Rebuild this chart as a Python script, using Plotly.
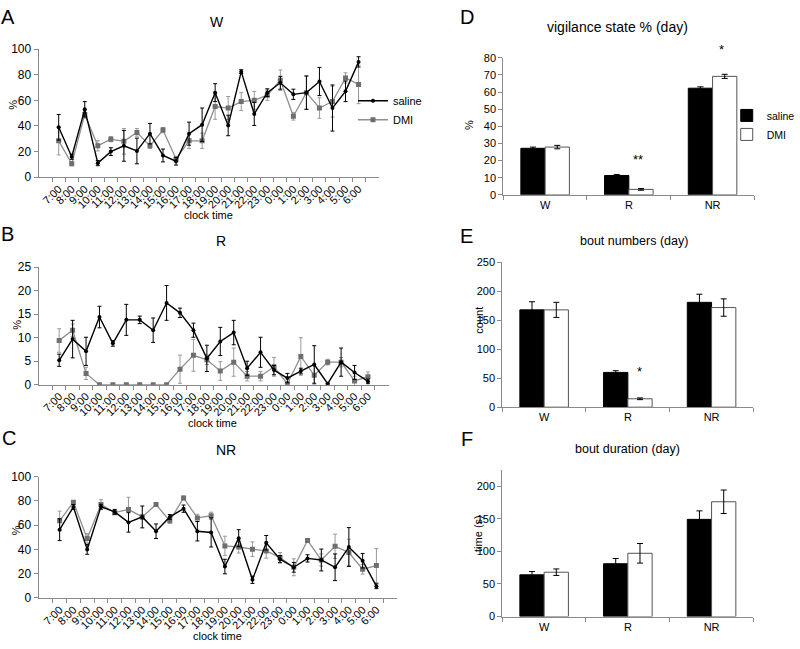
import plotly.graph_objects as go

# ---------------- data ----------------
clock = ["7:00", "8:00", "9:00", "10:00", "11:00", "12:00", "13:00", "14:00", "15:00", "16:00",
         "17:00", "18:00", "19:00", "20:00", "21:00", "22:00", "23:00", "0:00", "1:00", "2:00",
         "3:00", "4:00", "5:00", "6:00"]

W_saline = [39, 16, 53, 11, 20, 24.5, 20.5, 34, 17, 12.5, 34, 41, 66, 40.4, 82.4, 49.4, 66, 73.7, 64.7, 66, 74.7, 54, 67, 90]
W_saline_err = [10, 2, 6, 2, 3, 12, 10, 8, 5, 3, 9, 13, 7, 8, 1.5, 9, 3, 5, 4, 13, 11, 18, 8, 4]
W_dmi = [28.4, 10.5, 49, 24.5, 29.7, 28, 35, 24.5, 36.8, 14.3, 28.4, 28.4, 55.2, 54, 59, 60, 64, 75.7, 47.6, 66, 54, 59, 77.5, 72.4]
W_dmi_err = [11, 1.5, 3, 4, 2, 10, 3, 2, 2, 2, 6, 6, 10, 9, 7, 7, 4, 8, 3, 13, 8, 12, 4, 15]

R_saline = [5.2, 9.7, 7.1, 14.4, 8.8, 13.8, 13.8, 11.6, 17.4, 15.3, 11.6, 5.6, 9.2, 11.1, 3.5, 6.9, 3.1, 1.4, 2.9, 4.3, 0.2, 4.8, 2.6, 0.7]
R_saline_err = [1.3, 4, 3, 2.3, 0.6, 3.3, 0.8, 2.6, 3.7, 1, 1.5, 2.8, 3, 2.6, 1.5, 3.2, 1, 1, 0.6, 4, 0.1, 3, 1.5, 0.5]
R_dmi = [9.4, 11.6, 2.4, 0, 0, 0, 0, 0, 0, 3.3, 6.25, 5.3, 2.9, 4.8, 1.8, 1.8, 3.8, 0.2, 6, 2, 4.8, 4.8, 0.8, 1.7]
R_dmi_err = [2.5, 1.3, 1.3, 0, 0, 0, 0, 0, 0, 3, 3.4, 1, 2, 3, 1, 1, 2, 0.2, 4, 2, 0.6, 1, 1, 1]

NR_saline = [56.3, 75, 40, 75.2, 71, 62.3, 66.8, 55, 66.8, 73.6, 55, 54, 25.9, 49.3, 15, 45.5, 32, 25.3, 32.6, 31.3, 25.3, 42, 30.7, 9.7]
NR_saline_err = [9, 2, 4, 2, 2, 8, 9, 6, 2, 3, 8, 12, 6, 7, 3, 6, 3, 4, 3, 9, 11, 16, 6, 2]
NR_dmi = [63.6, 79, 49, 77, 70.3, 73, 66.8, 77, 63.6, 82.5, 66, 67.7, 42.9, 42, 40.2, 38.8, 33.4, 25.3, 47.4, 31.3, 42.6, 37.5, 23.7, 26.7]
NR_dmi_err = [8, 1, 4, 4, 1, 10, 2, 1.5, 2, 1.5, 3, 3, 8, 5, 6, 6, 4, 7, 1, 5, 10, 11, 4, 14]

states = ["W", "R", "NR"]
vig_saline = [27.2, 11.3, 62.3]
vig_saline_err = [0.7, 0.6, 0.8]
vig_dmi = [27.9, 3.2, 69.2]
vig_dmi_err = [1.0, 0.5, 1.2]

bout_num_saline = [168, 60, 181]
bout_num_saline_err = [14, 3, 14]
bout_num_dmi = [168, 14.5, 172]
bout_num_dmi_err = [13, 1.5, 15]

bout_dur_saline = [64, 81, 149]
bout_dur_saline_err = [5, 8, 13]
bout_dur_dmi = [68, 97, 176]
bout_dur_dmi_err = [5, 15, 18]

# ---------------- helpers ----------------
W_PX, H_PX = 800, 649


def px(x):
    return x / W_PX


def py(y):
    return 1 - y / H_PX


FONT = "Liberation Sans, Arial, sans-serif"
AXCOL = "#8a8a8a"

fig = go.Figure()


def add_lines(xa, ya, sal, sal_err, dmi, dmi_err, show):
    fig.add_trace(go.Scatter(
        x=clock, y=dmi, name="DMI", mode="lines+markers", xaxis=xa, yaxis=ya,
        line=dict(color="#8f8f8f", width=1.3),
        marker=dict(symbol="square", size=5, color="#6e6e6e"),
        error_y=dict(type="data", array=dmi_err, color="#9a9a9a", thickness=1, width=2),
        showlegend=show, legend="legend", legendrank=2))
    fig.add_trace(go.Scatter(
        x=clock, y=sal, name="saline", mode="lines+markers", xaxis=xa, yaxis=ya,
        line=dict(color="black", width=1.4),
        marker=dict(symbol="circle", size=4, color="black"),
        error_y=dict(type="data", array=sal_err, color="black", thickness=1, width=2),
        showlegend=show, legend="legend", legendrank=1))


add_lines("x", "y", W_saline, W_saline_err, W_dmi, W_dmi_err, True)
add_lines("x2", "y2", R_saline, R_saline_err, R_dmi, R_dmi_err, False)
add_lines("x3", "y3", NR_saline, NR_saline_err, NR_dmi, NR_dmi_err, False)


def add_bars(xa, ya, sal, sal_err, dmi, dmi_err, show):
    fig.add_trace(go.Bar(
        x=states, y=sal, name="saline", xaxis=xa, yaxis=ya, offsetgroup="s",
        marker=dict(color="black", line=dict(color="black", width=1)),
        error_y=dict(type="data", array=sal_err, color="black", thickness=1, width=3),
        showlegend=show, legend="legend2"))
    fig.add_trace(go.Bar(
        x=states, y=dmi, name="DMI", xaxis=xa, yaxis=ya, offsetgroup="d",
        marker=dict(color="white", line=dict(color="#555555", width=1)),
        error_y=dict(type="data", array=dmi_err, color="black", thickness=1, width=3),
        showlegend=show, legend="legend2"))


add_bars("x4", "y4", vig_saline, vig_saline_err, vig_dmi, vig_dmi_err, True)
add_bars("x5", "y5", bout_num_saline, bout_num_saline_err, bout_num_dmi, bout_num_dmi_err, False)
add_bars("x6", "y6", bout_dur_saline, bout_dur_saline_err, bout_dur_dmi, bout_dur_dmi_err, False)

base_ax = dict(showline=True, linecolor=AXCOL, linewidth=1, ticks="outside", tickcolor=AXCOL,
               ticklen=4, showgrid=False, zeroline=False, fixedrange=True)

line_x = dict(base_ax, type="category", tickson="boundaries", tickangle=-45,
              tickfont=dict(size=11, color="black", family=FONT))
line_y = dict(base_ax, tickfont=dict(size=12, color="black", family=FONT))
bar_x = dict(base_ax, type="category", tickson="boundaries",
             tickfont=dict(size=11, color="black", family=FONT))
bar_y = dict(base_ax, tickfont=dict(size=11, color="black", family=FONT))

layout = dict(
    width=W_PX, height=H_PX,
    margin=dict(l=0, r=0, t=0, b=0),
    paper_bgcolor="white", plot_bgcolor="white",
    font=dict(family=FONT, color="black"),
    barmode="group", bargap=0.42, bargroupgap=0,
    xaxis=dict(line_x, domain=[px(39), px(383)], anchor="y"),
    yaxis=dict(line_y, domain=[py(174), py(43)], range=[0, 100], dtick=20, anchor="x"),
    xaxis2=dict(line_x, domain=[px(39), px(393)], anchor="y2"),
    yaxis2=dict(line_y, domain=[py(386), py(266)], range=[0, 25], dtick=5, anchor="x2"),
    xaxis3=dict(line_x, domain=[px(39), px(402)], anchor="y3"),
    yaxis3=dict(line_y, domain=[py(604), py(480)], range=[0, 100], dtick=20, anchor="x3"),
    xaxis4=dict(bar_x, domain=[px(509), px(763)], anchor="y4"),
    yaxis4=dict(bar_y, domain=[py(192), py(52)], range=[0, 80], dtick=10, anchor="x4"),
    xaxis5=dict(bar_x, domain=[px(508), px(762)], anchor="y5"),
    yaxis5=dict(bar_y, domain=[py(409), py(261)], range=[0, 250], dtick=50, anchor="x5"),
    xaxis6=dict(bar_x, domain=[px(508), px(762)], anchor="y6"),
    yaxis6=dict(bar_y, domain=[py(623), py(473)], range=[0, 225], tickvals=[0, 50, 100, 150, 200], anchor="x6"),
    legend=dict(x=px(357), y=py(81), xanchor="left", yanchor="top", bgcolor="rgba(0,0,0,0)",
                font=dict(size=11, family=FONT), itemwidth=30, tracegroupgap=0),
    legend2=dict(x=px(735), y=py(96), xanchor="left", yanchor="top", bgcolor="rgba(0,0,0,0)",
                 font=dict(size=10.5, family=FONT), itemwidth=30, tracegroupgap=0),
)
fig.update_layout(**layout)

annots = []


def ann(text, x, y, size, angle=0):
    annots.append(dict(text=text, x=px(x), y=py(y), xref="paper", yref="paper",
                       xanchor="center", yanchor="middle", showarrow=False, textangle=angle,
                       font=dict(size=size, family=FONT, color="black")))


# panel letters
for t, x, y in [("A", 8, 10), ("B", 8, 232), ("C", 9, 441), ("D", 472, 10), ("E", 472, 234), ("F", 472, 442)]:
    ann(t, x, y, 20)
# titles
ann("W", 219, 15, 14)
ann("R", 224, 239, 14)
ann("NR", 229, 453, 14)
ann("vigilance state % (day)", 625, 20, 14)
ann("bout numbers (day)", 641, 239, 12.5)
ann("bout duration (day)", 635, 452, 12.5)
# axis titles
ann("clock time", 211, 213, 11)
ann("clock time", 215, 425, 11)
ann("clock time", 220, 643, 11)
ann("%", 13, 100, 11, -90)
ann("%", 17, 325, 11, -90)
ann("%", 17, 535, 11, -90)
ann("%", 475, 121, 11, -90)
ann("count", 485, 320, 11, -90)
ann("time (s)", 484, 538, 11, -90)
# significance stars
ann("**", 645, 156, 13)
ann("*", 730, 43, 13)
ann("*", 647, 373, 13)

fig.update_layout(annotations=annots)

fig.write_html("out.html", config={"displayModeBar": False},
               post_script="document.body.style.margin='0';document.body.style.overflow='hidden';")
